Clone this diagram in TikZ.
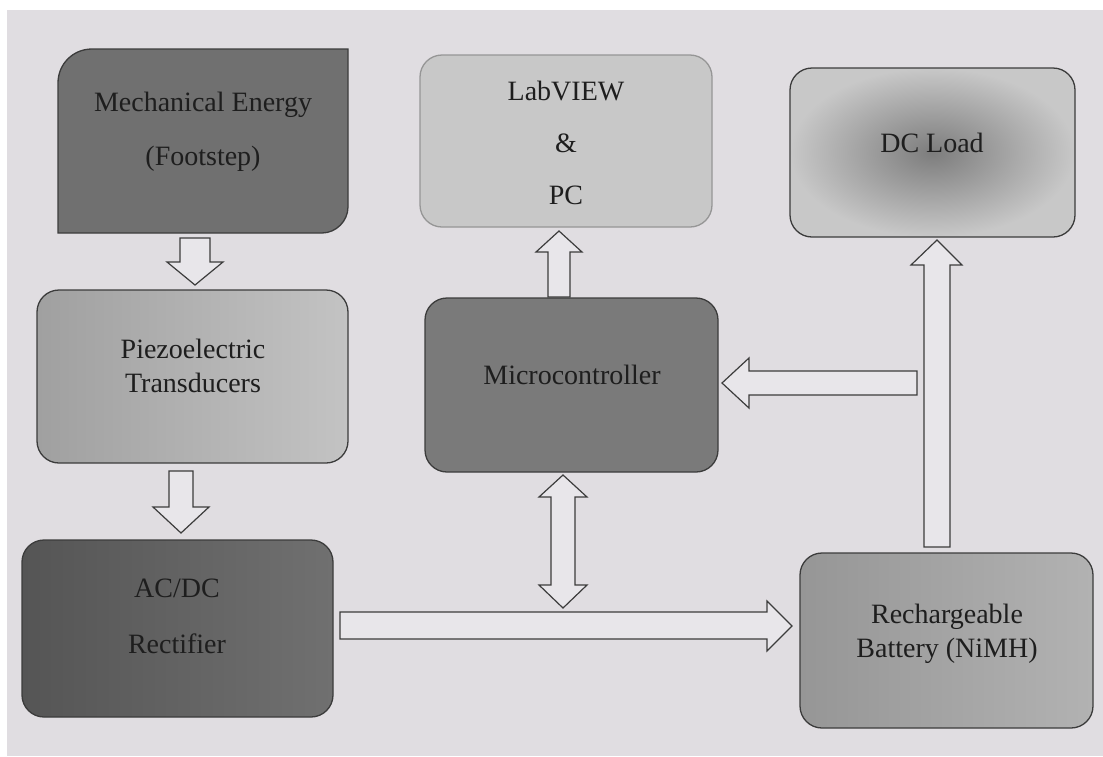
\documentclass[tikz,border=0pt]{standalone}
\usepackage{fontspec}
\setmainfont{Liberation Serif}
\newfontfamily\diagserif{Liberation Serif}
\usetikzlibrary{calc}
\definecolor{bg}{RGB}{224,221,225}
\definecolor{arrowfill}{RGB}{232,230,234}
\definecolor{outl}{RGB}{60,60,60}
\definecolor{txt}{RGB}{30,30,30}
\definecolor{mechfill}{RGB}{112,112,112}
\definecolor{labfill}{RGB}{200,200,200}
\definecolor{labborder}{RGB}{150,150,150}
\definecolor{dcin}{RGB}{125,125,125}
\definecolor{dcout}{RGB}{200,200,200}
\definecolor{pzl}{RGB}{160,160,160}
\definecolor{pzr}{RGB}{195,195,195}
\definecolor{rcl}{RGB}{85,85,85}
\definecolor{rcr}{RGB}{112,112,112}
\definecolor{microfill}{RGB}{122,122,122}
\definecolor{btl}{RGB}{150,150,150}
\definecolor{btr}{RGB}{178,178,178}
\begin{document}
\begin{tikzpicture}[x=1pt,y=-1pt,
  box/.style={draw=outl, line width=1.3pt, rounded corners=22pt, inner sep=0pt},
  lbl/.style={font=\diagserif\fontsize{28}{34}\selectfont, text=txt, align=center, inner sep=0pt},
  blk/.style={draw=outl, line width=1.2pt, fill=arrowfill, line join=miter}]
\useasboundingbox (0,0) rectangle (1103,756);
\fill[white] (0,0) rectangle (1103,756);
\fill[bg] (7,10) rectangle (1103,756);

% boxes
\node[inner sep=0pt, minimum width=290pt, minimum height=184pt] (mech) at (203,141) {};
\draw[draw=outl, line width=1.3pt, fill=mechfill]
  (58,233) -- (58,83) .. controls (58,64) and (73,49) .. (92,49)
  -- (348,49) -- (348,207) .. controls (348,221) and (336,233) .. (322,233) -- cycle;
\node[box, fill=labfill, draw=labborder, minimum width=292pt, minimum height=172pt] (lab) at (566,141) {};
\node[box, inner color=dcin, outer color=dcout, minimum width=285pt, minimum height=169pt] (dc) at (932.5,152.5) {};
\node[box, left color=pzl, right color=pzr, minimum width=311pt, minimum height=173pt] (piezo) at (192.5,376.5) {};
\node[box, left color=rcl, right color=rcr, minimum width=311pt, minimum height=177pt] (rect) at (177.5,628.5) {};
\node[box, fill=microfill, minimum width=293pt, minimum height=174pt] (micro) at (571.5,385) {};
\node[box, left color=btl, right color=btr, minimum width=293pt, minimum height=175pt] (batt) at (946.5,640.5) {};

% labels
\node[lbl] (mechT) at (203,132) {Mechanical Energy\\[20pt](Footstep)};
\node[lbl] (labT) at (566,143) {LabVIEW\\[18pt]\&\\[18pt]PC};
\node[lbl] (dcT) at (932,143) {DC Load};
\node[lbl] (piezoT) at (193,366) {Piezoelectric\\Transducers};
\node[lbl] (rectT) at (177,616) {AC/DC\\[22pt]Rectifier};
\node[lbl] (microT) at (572,375) {Microcontroller};
\node[lbl] (battT) at (947,634) {Rechargeable\\Battery (NiMH)};

% block arrows
\draw[blk] (180,238) -- (210,238) -- (210,262) -- (223,262) -- (195,285) -- (167,262) -- (180,262) -- cycle;
\draw[blk] (169,471) -- (193,471) -- (193,507) -- (209,507) -- (181,533) -- (153,507) -- (169,507) -- cycle;
\draw[blk] (548,297) -- (570,297) -- (570,252) -- (582,252) -- (559,231) -- (536,252) -- (548,252) -- cycle;
\draw[blk] (551,497) -- (551,585) -- (539,585) -- (563,608) -- (587,585) -- (575,585) -- (575,497) -- (587,497) -- (563,475) -- (539,497) -- cycle;
\draw[blk] (340,612) -- (767,612) -- (767,601) -- (792,626) -- (767,651) -- (767,639) -- (340,639) -- cycle;
\draw[blk] (924,547) -- (950,547) -- (950,265) -- (962,265) -- (937,240) -- (911,265) -- (924,265) -- cycle;
\draw[blk] (917,371) -- (917,395) -- (749,395) -- (749,408) -- (722,383) -- (749,358) -- (749,371) -- cycle;
\end{tikzpicture}
\end{document}
